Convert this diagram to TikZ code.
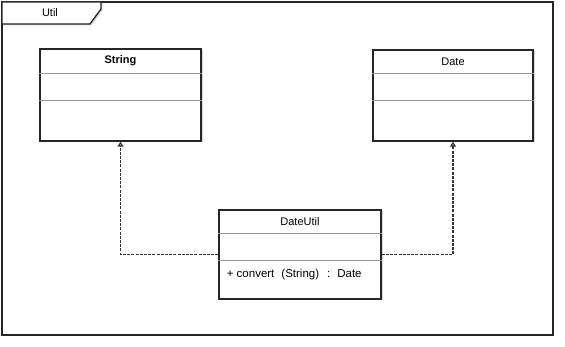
\documentclass[tikz,border=0pt]{standalone}
\usepackage{fontspec}
\setmainfont{Liberation Sans}
\usetikzlibrary{arrows.meta,shadows}

\begin{document}
\begin{tikzpicture}[x=1pt,y=-1pt,
  classbox/.style={draw=black!85, line width=1.4pt, fill=white, inner sep=0pt,
    drop shadow={shadow xshift=1.5pt, shadow yshift=-1.5pt, opacity=0.25, fill=black!60}},
  sep/.style={draw=black!40, line width=0.6pt},
  frame/.style={draw=black!85, line width=1.3pt},
  realize/.style={dash pattern=on 3pt off 1.2pt, line width=1.9pt, draw=black!80,
    -{Triangle[open, length=5pt, width=6pt, line width=1.2pt]}},
  title/.style={font=\fontsize{11}{13}\selectfont},
]
\useasboundingbox (0,0) rectangle (565,347);
% Package frame with tab
\draw[frame] (2,2) rectangle (553,335);
\draw[frame, fill=white, drop shadow={shadow xshift=1.5pt, shadow yshift=-1.5pt, opacity=0.25, fill=black!60}]
  (2,2) -- (101,2) -- (101,9) -- (90,24) -- (2,24) -- cycle;
\node[title] (pkgname) at (50,13) {Util};
% Classes
\node[classbox, minimum width=161, minimum height=92] (string) at (120.5,95) {};
\node[classbox, minimum width=160, minimum height=91] (date) at (453,95.5) {};
\node[classbox, minimum width=162, minimum height=89] (dateutil) at (300,254.5) {};
% Class names
\node[title, font=\fontsize{11}{13}\selectfont\bfseries] (stringname) at ([yshift=-12]string.north) {String};
\node[title] (datename) at ([yshift=-12]date.north) {Date};
\node[title] (dateutilname) at ([yshift=-12]dateutil.north) {DateUtil};
% Compartments
\foreach \cls/\off in {string/25, string/52, date/24, date/51, dateutil/24, dateutil/51}
  \draw[sep] ([yshift=-\off]\cls.north west) -- ([yshift=-\off]\cls.north east);
\node[title, font=\fontsize{11.5}{13}\selectfont, anchor=west] (convert) at ([xshift=5, yshift=-65]dateutil.north west)
  {+ convert\hspace{7pt}(String)\hspace{8pt}:\hspace{7pt}Date};
% Realizations
\draw[realize] (dateutil.west) -| (string.south);
\draw[realize] (dateutil.east) -| (date.south);
\end{tikzpicture}
\end{document}
